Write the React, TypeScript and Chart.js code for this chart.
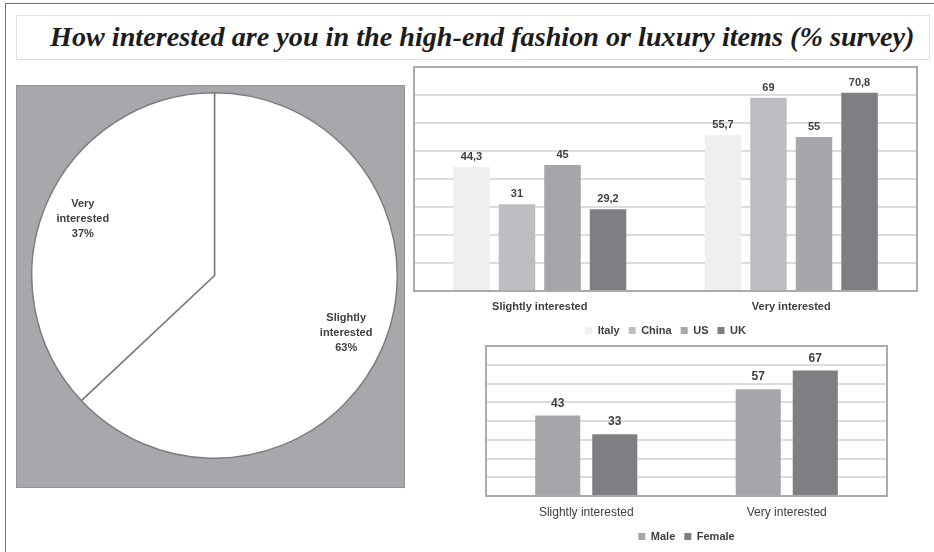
import React, { useEffect, useRef } from "react";
import { Chart, registerables } from "chart.js";

Chart.register(...registerables);

// ---------- data ----------
const TITLE = "How interested are you in the high-end fashion or luxury items (% survey)";

const PIE_LABELS = ["Slightly interested", "Very interested"];
const PIE_VALUES = [63, 37];

const CATEGORIES = ["Slightly interested", "Very interested"];
const COUNTRIES = ["Italy", "China", "US", "UK"];
const ITALY = [44.3, 55.7];
const CHINA = [31, 69];
const US = [45, 55];
const UK = [29.2, 70.8];

const GENDERS = ["Male", "Female"];
const MALE = [43, 57];
const FEMALE = [33, 67];

const Y_MIN = 0;
const Y_MAX = 80;
const Y_STEP = 10;

// ---------- styles ----------
const FONT = "'Liberation Sans', Arial, sans-serif";
const TEXT = "#404040";
const COUNTRY_COLORS = ["#efefef", "#bdbec1", "#a5a6a9", "#7e7f82"];
const GENDER_COLORS = ["#a5a6a9", "#7e7f82"];

const framePlugin = {
  id: "frame",
  beforeDatasetsDraw(chart: any, _args: any, opts: any) {
    const { ctx, chartArea } = chart;
    const { left, top, right, bottom } = chartArea;
    ctx.save();
    ctx.strokeStyle = opts.color || "#aaa";
    ctx.lineWidth = opts.width || 2;
    ctx.strokeRect(left, top, right - left, bottom - top);
    ctx.restore();
  },
};

const valueLabelsPlugin = {
  id: "valueLabels",
  afterDatasetsDraw(chart: any, _args: any, opts: any) {
    const { ctx } = chart;
    ctx.save();
    ctx.font = `bold ${opts.size || 11}px ${FONT}`;
    ctx.fillStyle = opts.color || TEXT;
    ctx.textAlign = "center";
    ctx.textBaseline = "middle";
    chart.data.datasets.forEach((ds: any, di: number) => {
      const meta = chart.getDatasetMeta(di);
      meta.data.forEach((el: any, i: number) => {
        const v = ds.data[i];
        ctx.fillText(String(v).replace(".", ","), el.x, el.y - (opts.offset || 10));
      });
    });
    ctx.restore();
  },
};

const pieLabelsPlugin = {
  id: "pieLabels",
  afterDatasetsDraw(chart: any, _args: any, opts: any) {
    const { ctx } = chart;
    const meta = chart.getDatasetMeta(0);
    ctx.save();
    ctx.font = `bold 11px ${FONT}`;
    ctx.fillStyle = TEXT;
    ctx.textAlign = "center";
    ctx.textBaseline = "middle";
    meta.data.forEach((arc: any, i: number) => {
      const p = arc.getProps(["x", "y", "startAngle", "endAngle", "outerRadius"], true);
      const mid = (p.startAngle + p.endAngle) / 2;
      const r = p.outerRadius * (opts.fraction || 0.785);
      const cx = p.x + Math.cos(mid) * r;
      const cy = p.y + Math.sin(mid) * r;
      const lines = [...String(chart.data.labels[i]).split(" "), `${chart.data.datasets[0].data[i]}%`];
      lines.forEach((ln: string, k: number) => {
        ctx.fillText(ln, cx, cy + (k - (lines.length - 1) / 2) * 15);
      });
    });
    ctx.restore();
  },
};

function barOptions(p: {
  padding: any;
  xHeight: number;
  xFont: any;
  xPad: number;
  valueSize: number;
  valueOffset: number;
}) {
  return {
    animation: false,
    responsive: true,
    maintainAspectRatio: false,
    layout: { padding: p.padding },
    scales: {
      x: {
        grid: { display: false, drawTicks: false },
        border: { display: false },
        ticks: { color: TEXT, font: p.xFont, padding: p.xPad },
        afterFit: (s: any) => {
          s.height = p.xHeight;
        },
      },
      y: {
        min: Y_MIN,
        max: Y_MAX,
        ticks: { display: false, stepSize: Y_STEP },
        grid: { color: "#dcdcdc", lineWidth: 2, drawTicks: false },
        border: { display: false },
        afterFit: (s: any) => {
          s.width = 0;
        },
      },
    },
    plugins: {
      legend: {
        position: "bottom",
        labels: {
          boxWidth: 7,
          boxHeight: 7,
          padding: 9,
          color: TEXT,
          font: { family: FONT, size: 11, weight: "bold" },
        },
      },
      tooltip: { enabled: false },
      frame: { color: "#ababab", width: 2 },
      valueLabels: { size: p.valueSize, offset: p.valueOffset, color: TEXT },
    },
  };
}

function useChart(ref: React.RefObject<HTMLCanvasElement | null>, make: () => any) {
  useEffect(() => {
    if (!ref.current) return;
    const chart = new Chart(ref.current, make());
    return () => chart.destroy();
  }, []);
}

function PieChart() {
  const ref = useRef<HTMLCanvasElement>(null);
  useChart(ref, () => ({
    type: "pie",
    data: {
      labels: PIE_LABELS,
      datasets: [
        {
          data: PIE_VALUES,
          backgroundColor: ["#ffffff", "#ffffff"],
          borderColor: "#7d7d7f",
          borderWidth: 1.5,
        },
      ],
    },
    options: {
      animation: false,
      responsive: true,
      maintainAspectRatio: false,
      plugins: { legend: { display: false }, tooltip: { enabled: false }, pieLabels: { fraction: 0.785 } },
    },
    plugins: [pieLabelsPlugin],
  }));
  return (
    <div style={{ position: "absolute", left: 31, top: 92, width: 367, height: 367 }}>
      <canvas ref={ref} />
    </div>
  );
}

function CountryChart() {
  const ref = useRef<HTMLCanvasElement>(null);
  const series = [ITALY, CHINA, US, UK];
  useChart(ref, () => ({
    type: "bar",
    data: {
      labels: CATEGORIES,
      datasets: COUNTRIES.map((c, i) => ({
        label: c,
        data: series[i],
        backgroundColor: COUNTRY_COLORS[i],
        borderWidth: 0,
        categoryPercentage: 0.724,
        barPercentage: 0.802,
      })),
    },
    options: barOptions({
      padding: { left: 4, top: 7, right: 17, bottom: 4 },
      xHeight: 25,
      xFont: { family: FONT, size: 11, weight: "bold" },
      xPad: 9,
      valueSize: 11,
      valueOffset: 10,
    }),
    plugins: [framePlugin, valueLabelsPlugin],
  }));
  return (
    <div style={{ position: "absolute", left: 410, top: 60, width: 524, height: 290 }}>
      <canvas ref={ref} />
    </div>
  );
}

function GenderChart() {
  const ref = useRef<HTMLCanvasElement>(null);
  const series = [MALE, FEMALE];
  useChart(ref, () => ({
    type: "bar",
    data: {
      labels: CATEGORIES,
      datasets: GENDERS.map((g, i) => ({
        label: g,
        data: series[i],
        backgroundColor: GENDER_COLORS[i],
        borderWidth: 0,
        categoryPercentage: 0.569,
        barPercentage: 0.79,
      })),
    },
    options: barOptions({
      padding: { left: 6, top: 6, right: 47, bottom: 0 },
      xHeight: 26,
      xFont: { family: FONT, size: 12, weight: "normal" },
      xPad: 9.5,
      valueSize: 12,
      valueOffset: 12,
    }),
    plugins: [framePlugin, valueLabelsPlugin],
  }));
  return (
    <div style={{ position: "absolute", left: 480, top: 340, width: 454, height: 212 }}>
      <canvas ref={ref} />
    </div>
  );
}

export default function App() {
  return (
    <div
      style={{
        position: "absolute",
        left: 0,
        top: 0,
        width: 934,
        height: 552,
        background: "#ffffff",
        overflow: "hidden",
      }}
    >
      {/* outer frame lines */}
      <div style={{ position: "absolute", left: 5, top: 3, width: 0, height: 560, borderLeft: "1.5px solid #6f6f6f" }} />
      <div style={{ position: "absolute", left: 5, top: 3, width: 940, height: 0, borderTop: "1.5px solid #6f6f6f" }} />
      {/* title box */}
      <div
        style={{
          position: "absolute",
          left: 16,
          top: 15,
          width: 912,
          height: 43,
          border: "1px solid #dedede",
        }}
      />
      <div
        style={{
          position: "absolute",
          left: 50,
          top: 23,
          lineHeight: "28px",
          whiteSpace: "nowrap",
          fontFamily: "'Liberation Serif', 'Times New Roman', serif",
          fontStyle: "italic",
          fontWeight: "bold",
          fontSize: 28.2,
          color: "#1c1c1c",
        }}
      >
        {TITLE}
      </div>
      {/* pie panel */}
      <div
        style={{
          position: "absolute",
          left: 16,
          top: 85,
          width: 387,
          height: 401,
          background: "#a7a8ab",
          border: "1px solid #949497",
        }}
      />
      <PieChart />
      <CountryChart />
      <GenderChart />
    </div>
  );
}
